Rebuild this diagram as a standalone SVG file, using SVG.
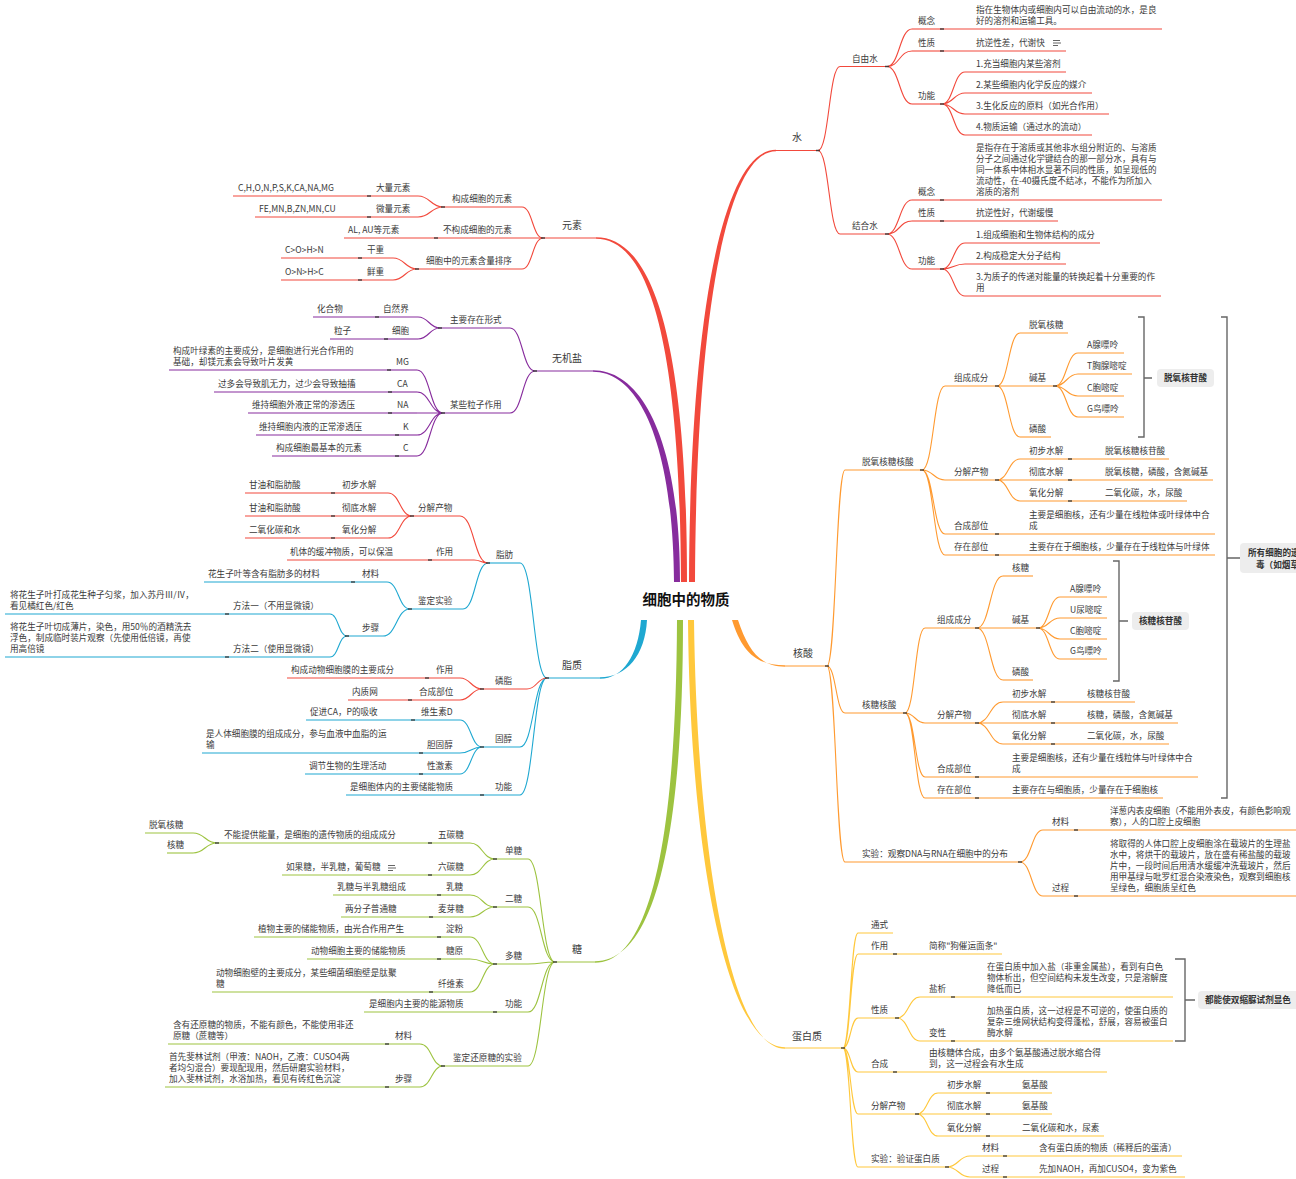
<svg xmlns="http://www.w3.org/2000/svg" width="1296" height="1179" viewBox="0 0 1296 1179">
<style>
.t{font-family:"Noto Sans CJK SC","Noto Sans",sans-serif;font-size:8.6px;fill:#3a3a3a}
.m{font-size:10px}
.c{font-size:14.5px;font-weight:bold;fill:#111;text-anchor:middle}
.bx{font-weight:bold;fill:#333}
.mid{text-anchor:middle}
.u{stroke-width:1.1;fill:none}
.R{stroke:#F2493C}.P{stroke:#872C9D}.B{stroke:#1FA8D1}.G{stroke:#9DC340}.Y{stroke:#FFC83C}.O{stroke:#FF9A30}
.fR{fill:#F2493C}.fP{fill:#872C9D}.fB{fill:#1FA8D1}.fG{fill:#9DC340}.fY{fill:#FFC83C}.fO{fill:#FF9A30}
.k{stroke:#333;stroke-width:1.5;fill:none;opacity:.85}
.br{stroke:#666;stroke-width:1.4;fill:none}
.box{fill:#EDEDED}
.ic{stroke:#555;stroke-width:0.9;fill:none}
</style>
<rect width="1296" height="1179" fill="#fff"/>
<g id="connectors">
<path class="fR" d="M689,582C690,330 720,149.75 776,149.75L776,151.25C724,151.25 696,330 695,582Z"/>
<path class="fR" d="M596,237.25C650,237.25 687,330 687,582L681,582C680,330 646,238.75 596,238.75Z"/>
<path class="fP" d="M593,370.25C642,370.25 680,440 680,582L674,582C673,440 638,371.75 593,371.75Z"/>
<path class="fB" d="M600,677.25C627,677.25 645,655 647,620L641,620C638,655 623,678.75 600,678.75Z"/>
<path class="fG" d="M595,961.25C652,961.25 683,850 683,620L677,620C676,850 648,962.75 595,962.75Z"/>
<path class="fY" d="M688,620C690,850 726,1047.25 785,1047.25L785,1048.75C730,1048.75 697,850 694,620Z"/>
<path class="fO" d="M732,620C742,652 756,665.25 785,665.25L785,666.75C760,666.75 748,650 738,620Z"/>
<path class="u R" d="M818,150.5C829,150.5 829,66.5 840,66.5M818,150.5C829,150.5 829,234 840,234M887,66.5C899.5,66.5 899.5,29 912,29M887,66.5C899.5,66.5 899.5,51 912,51M887,66.5C899.5,66.5 899.5,104 912,104M942,104C953.5,104 953.5,72 965,72M942,104C953.5,104 953.5,93 965,93M942,104C953.5,104 953.5,114 965,114M942,104C953.5,104 953.5,135 965,135M887,234C899.5,234 899.5,200 912,200M887,234C899.5,234 899.5,221 912,221M887,234C899.5,234 899.5,269 912,269M942,269C953.5,269 953.5,243 965,243M942,269C953.5,269 953.5,264 965,264M942,269C953.5,269 953.5,296 965,296"/>
<path class="u R" d="M543,238C532.5,238 532.5,207 522,207M543,238C532.5,238 532.5,269 522,269M443,207C430.5,207 430.5,196 418,196M443,207C430.5,207 430.5,217 418,217M417,269C405,269 405,258 393,258M417,269C405,269 405,280 393,280"/>
<path class="u P" d="M535,371C522.5,371 522.5,328 510,328M535,371C522.5,371 522.5,413 510,413M440,328C429,328 429,317 418,317M440,328C429,328 429,339 418,339M443,413C430,413 430,370 417,370M443,413C430,413 430,392 417,392M443,413H417M443,413C430,413 430,435 417,435M443,413C430,413 430,456 417,456"/>
<path class="u B" d="M547,678C533.5,678 533.5,563 520,563M547,678C533.5,678 533.5,747 520,747M547,678C533.5,678 533.5,795 520,795M488,563C475.5,563 475.5,609 463,609M410,609C398.5,609 398.5,582 387,582M410,609C396.5,609 396.5,636 383,636M347,636C338.5,636 338.5,614 330,614M347,636C338.5,636 338.5,657 330,657M482,747C471,747 471,720 460,720M482,747C471,747 471,753 460,753M482,747C471,747 471,774 460,774"/>
<path class="u R" d="M547,678C537,678 537,689 527,689M488,563C474,563 474,516 460,516M488,563C481,563 481,560 474,560M412,516C400,516 400,493 388,493M412,516H388M412,516C400,516 400,538 388,538M482,689C471,689 471,678 460,678M482,689C471,689 471,700 460,700"/>
<path class="u G" d="M555,962C541.5,962 541.5,859 528,859M555,962C541.5,962 541.5,907 528,907M555,962C541.5,962 541.5,964 528,964M555,962C541.5,962 541.5,1012 528,1012M555,962C541.5,962 541.5,1066 528,1066M495,859C482.5,859 482.5,843 470,843M495,859C482.5,859 482.5,875 470,875M217,843C205,843 205,833 193,833M217,843C205,843 205,853 193,853M495,907C482.5,907 482.5,895 470,895M495,907C482.5,907 482.5,917 470,917M495,964C482.5,964 482.5,937 470,937M495,964C482.5,964 482.5,959 470,959M495,964C482.5,964 482.5,992 470,992M443,1066C431.5,1066 431.5,1044 420,1044M443,1066C431.5,1066 431.5,1087 420,1087"/>
<path class="u O" d="M827,666C836,666 836,470 845,470M827,666C836,666 836,713 845,713M827,666C836,666 836,862 845,862M922,470C933.5,470 933.5,386 945,386M922,470C933.5,470 933.5,480 945,480M922,470C933.5,470 933.5,534 945,534M922,470C933.5,470 933.5,555 945,555M997,386C1008.5,386 1008.5,333 1020,333M997,386H1020M997,386C1008.5,386 1008.5,437 1020,437M1055,386C1066.5,386 1066.5,353 1078,353M1055,386C1066.5,386 1066.5,374 1078,374M1055,386C1066.5,386 1066.5,396 1078,396M1055,386C1066.5,386 1066.5,417 1078,417M997,480C1008.5,480 1008.5,459 1020,459M997,480H1020M997,480C1008.5,480 1008.5,501 1020,501M905,713C915,713 915,628 925,628M905,713C915,713 915,723 925,723M905,713C915,713 915,777 925,777M905,713C915,713 915,798 925,798M977,628C990,628 990,576 1003,576M977,628H1003M977,628C990,628 990,680 1003,680M1038,628C1049,628 1049,597 1060,597M1038,628C1049,628 1049,618 1060,618M1038,628C1049,628 1049,639 1060,639M1038,628C1049,628 1049,659 1060,659M977,723C990,723 990,702 1003,702M977,723H1003M977,723C990,723 990,744 1003,744M1020,862C1031.5,862 1031.5,830 1043,830M1020,862C1031.5,862 1031.5,896 1043,896"/>
<path class="u Y" d="M843,1048C850.5,1048 850.5,933 858,933M843,1048C850.5,1048 850.5,954 858,954M843,1048C850.5,1048 850.5,1018 858,1018M843,1048C850.5,1048 850.5,1072 858,1072M843,1048C850.5,1048 850.5,1114 858,1114M843,1048C850.5,1048 850.5,1167 858,1167M897,1018C908.5,1018 908.5,997 920,997M897,1018C908.5,1018 908.5,1041 920,1041M917,1114C927.5,1114 927.5,1093 938,1093M917,1114H938M917,1114C927.5,1114 927.5,1136 938,1136M947,1167C958.5,1167 958.5,1156 970,1156M947,1167C958.5,1167 958.5,1177 970,1177"/>
</g>
<g id="center"><text class="t c" x="686" y="605">细胞中的物质</text></g>
<!-- water -->
<g id="n-shui"><path class="u R" d="M776,150.5H818"/><text class="t m" x="792" y="141">水</text></g>
<g id="n-ziyoushui"><path class="u R" d="M840,66.5H887"/><text class="t" x="852" y="61.5">自由水</text></g>
<g id="n-jieheshui"><path class="u R" d="M840,234H887"/><text class="t" x="852" y="229">结合水</text></g>
<g id="n-zy-gainian"><path class="u R" d="M912,29H942"/><text class="t" x="918" y="24">概念</text></g>
<g id="n-zy-gainian-d"><path class="u R" d="M942,29H1162"/><text class="t"><tspan x="976" y="13">指在生物体内或细胞内可以自由流动的水，是良</tspan><tspan x="976" y="24">好的溶剂和运输工具。</tspan></text></g>
<g id="n-zy-xingzhi"><path class="u R" d="M912,51H942"/><text class="t" x="918" y="46">性质</text></g>
<g id="n-zy-xingzhi-d"><path class="u R" d="M942,51H1066"/><text class="t" x="976" y="46">抗逆性差，代谢快</text><path class="ic" d="M1053,40.5H1060M1053,43H1061M1053,45.5H1058"/></g>
<g id="n-zy-gongneng"><path class="u R" d="M912,104H942"/><text class="t" x="918" y="99">功能</text></g>
<g id="n-zy-gn1"><path class="u R" d="M965,72H1066"/><text class="t" x="976" y="67">1.充当细胞内某些溶剂</text></g>
<g id="n-zy-gn2"><path class="u R" d="M965,93H1092"/><text class="t" x="976" y="88">2.某些细胞内化学反应的媒介</text></g>
<g id="n-zy-gn3"><path class="u R" d="M965,114H1109"/><text class="t" x="976" y="109">3.生化反应的原料（如光合作用）</text></g>
<g id="n-zy-gn4"><path class="u R" d="M965,135H1092"/><text class="t" x="976" y="130">4.物质运输（通过水的流动）</text></g>
<g id="n-jh-gainian"><path class="u R" d="M912,200H942"/><text class="t" x="918" y="195">概念</text></g>
<g id="n-jh-gainian-d"><path class="u R" d="M942,200H1162"/><text class="t"><tspan x="976" y="150.6">是指存在于溶质或其他非水组分附近的、与溶质</tspan><tspan x="976" y="161.7">分子之间通过化学键结合的那一部分水，具有与</tspan><tspan x="976" y="172.8">同一体系中体相水显著不同的性质，如呈现低的</tspan><tspan x="976" y="183.9">流动性，在-40摄氏度不结冰，不能作为所加入</tspan><tspan x="976" y="195">溶质的溶剂</tspan></text></g>
<g id="n-jh-xingzhi"><path class="u R" d="M912,221H942"/><text class="t" x="918" y="216">性质</text></g>
<g id="n-jh-xingzhi-d"><path class="u R" d="M942,221H1058"/><text class="t" x="976" y="216">抗逆性好，代谢缓慢</text></g>
<g id="n-jh-gongneng"><path class="u R" d="M912,269H942"/><text class="t" x="918" y="264">功能</text></g>
<g id="n-jh-gn1"><path class="u R" d="M965,243H1100"/><text class="t" x="976" y="238">1.组成细胞和生物体结构的成分</text></g>
<g id="n-jh-gn2"><path class="u R" d="M965,264H1066"/><text class="t" x="976" y="259">2.构成稳定大分子结构</text></g>
<g id="n-jh-gn3"><path class="u R" d="M965,296H1161"/><text class="t"><tspan x="976" y="280">3.为质子的传递对能量的转换起着十分重要的作</tspan><tspan x="976" y="291">用</tspan></text></g>
<!-- nucleic acid -->
<g id="n-hesuan"><path class="u O" d="M785,666H827"/><text class="t m" x="793" y="657">核酸</text></g>
<g id="n-dna"><path class="u O" d="M845,470H922"/><text class="t" x="862" y="465">脱氧核糖核酸</text></g>
<g id="n-dna-zc"><path class="u O" d="M945,386H997"/><text class="t" x="954" y="381">组成成分</text></g>
<g id="n-dna-tyht"><path class="u O" d="M1020,333H1068"/><text class="t" x="1029" y="328">脱氧核糖</text></g>
<g id="n-dna-jj"><path class="u O" d="M1020,386H1055"/><text class="t" x="1029" y="381">碱基</text></g>
<g id="n-dna-ls"><path class="u O" d="M1020,437H1051"/><text class="t" x="1029" y="432">磷酸</text></g>
<g id="n-dna-a"><path class="u O" d="M1078,353H1124"/><text class="t" x="1087" y="348">A腺嘌呤</text></g>
<g id="n-dna-t"><path class="u O" d="M1078,374H1132"/><text class="t" x="1087" y="369">T胸腺嘧啶</text></g>
<g id="n-dna-c"><path class="u O" d="M1078,396H1124"/><text class="t" x="1087" y="391">C胞嘧啶</text></g>
<g id="n-dna-g"><path class="u O" d="M1078,417H1124"/><text class="t" x="1087" y="412">G鸟嘌呤</text></g>
<g id="n-dna-fj"><path class="u O" d="M945,480H997"/><text class="t" x="954" y="475">分解产物</text></g>
<g id="n-dna-cb"><path class="u O" d="M1020,459H1070"/><text class="t" x="1029" y="454">初步水解</text></g>
<g id="n-dna-cb-d"><path class="u O" d="M1070,459H1169"/><text class="t" x="1105" y="454">脱氧核糖核苷酸</text></g>
<g id="n-dna-cd"><path class="u O" d="M1020,480H1070"/><text class="t" x="1029" y="475">彻底水解</text></g>
<g id="n-dna-cd-d"><path class="u O" d="M1070,480H1213"/><text class="t" x="1105" y="475">脱氧核糖，磷酸，含氮碱基</text></g>
<g id="n-dna-yh"><path class="u O" d="M1020,501H1070"/><text class="t" x="1029" y="496">氧化分解</text></g>
<g id="n-dna-yh-d"><path class="u O" d="M1070,501H1187"/><text class="t" x="1105" y="496">二氧化碳，水，尿酸</text></g>
<g id="n-dna-hc"><path class="u O" d="M945,534H997"/><text class="t" x="954" y="529">合成部位</text></g>
<g id="n-dna-hc-d"><path class="u O" d="M997,534H1215"/><text class="t"><tspan x="1029" y="518">主要是细胞核，还有少量在线粒体或叶绿体中合</tspan><tspan x="1029" y="529">成</tspan></text></g>
<g id="n-dna-cz"><path class="u O" d="M945,555H997"/><text class="t" x="954" y="550">存在部位</text></g>
<g id="n-dna-cz-d"><path class="u O" d="M997,555H1215"/><text class="t" x="1029" y="550">主要存在于细胞核，少量存在于线粒体与叶绿体</text></g>
<g id="n-rna"><path class="u O" d="M845,713H905"/><text class="t" x="862" y="708">核糖核酸</text></g>
<g id="n-rna-zc"><path class="u O" d="M925,628H977"/><text class="t" x="937" y="623">组成成分</text></g>
<g id="n-rna-ht"><path class="u O" d="M1003,576H1033"/><text class="t" x="1012" y="571">核糖</text></g>
<g id="n-rna-jj"><path class="u O" d="M1003,628H1038"/><text class="t" x="1012" y="623">碱基</text></g>
<g id="n-rna-ls"><path class="u O" d="M1003,680H1033"/><text class="t" x="1012" y="675">磷酸</text></g>
<g id="n-rna-a"><path class="u O" d="M1060,597H1107"/><text class="t" x="1070" y="592">A腺嘌呤</text></g>
<g id="n-rna-u"><path class="u O" d="M1060,618H1107"/><text class="t" x="1070" y="613">U尿嘧啶</text></g>
<g id="n-rna-c"><path class="u O" d="M1060,639H1107"/><text class="t" x="1070" y="634">C胞嘧啶</text></g>
<g id="n-rna-g"><path class="u O" d="M1060,659H1107"/><text class="t" x="1070" y="654">G鸟嘌呤</text></g>
<g id="n-rna-fj"><path class="u O" d="M925,723H977"/><text class="t" x="937" y="718">分解产物</text></g>
<g id="n-rna-cb"><path class="u O" d="M1003,702H1053"/><text class="t" x="1012" y="697">初步水解</text></g>
<g id="n-rna-cb-d"><path class="u O" d="M1053,702H1135"/><text class="t" x="1087" y="697">核糖核苷酸</text></g>
<g id="n-rna-cd"><path class="u O" d="M1003,723H1053"/><text class="t" x="1012" y="718">彻底水解</text></g>
<g id="n-rna-cd-d"><path class="u O" d="M1053,723H1178"/><text class="t" x="1087" y="718">核糖，磷酸，含氮碱基</text></g>
<g id="n-rna-yh"><path class="u O" d="M1003,744H1053"/><text class="t" x="1012" y="739">氧化分解</text></g>
<g id="n-rna-yh-d"><path class="u O" d="M1053,744H1169"/><text class="t" x="1087" y="739">二氧化碳，水，尿酸</text></g>
<g id="n-rna-hc"><path class="u O" d="M925,777H977"/><text class="t" x="937" y="772">合成部位</text></g>
<g id="n-rna-hc-d"><path class="u O" d="M977,777H1198"/><text class="t"><tspan x="1012" y="761">主要是细胞核，还有少量在线粒体与叶绿体中合</tspan><tspan x="1012" y="772">成</tspan></text></g>
<g id="n-rna-cz"><path class="u O" d="M925,798H977"/><text class="t" x="937" y="793">存在部位</text></g>
<g id="n-rna-cz-d"><path class="u O" d="M977,798H1163"/><text class="t" x="1012" y="793">主要存在与细胞质，少量存在于细胞核</text></g>
<g id="n-exp"><path class="u O" d="M845,862H1020"/><text class="t" x="862" y="857">实验：观察DNA与RNA在细胞中的分布</text></g>
<g id="n-exp-cl"><path class="u O" d="M1043,830H1076"/><text class="t" x="1052" y="825">材料</text></g>
<g id="n-exp-cl-d"><path class="u O" d="M1076,830H1296"/><text class="t"><tspan x="1110" y="814">洋葱内表皮细胞（不能用外表皮，有颜色影响观</tspan><tspan x="1110" y="825">察），人的口腔上皮细胞</tspan></text></g>
<g id="n-exp-gc"><path class="u O" d="M1043,896H1076"/><text class="t" x="1052" y="891">过程</text></g>
<g id="n-exp-gc-d"><path class="u O" d="M1076,896H1296"/><text class="t"><tspan x="1110" y="846.6">将取得的人体口腔上皮细胞涂在载玻片的生理盐</tspan><tspan x="1110" y="857.7">水中，将烘干的载玻片，放在盛有稀盐酸的载玻</tspan><tspan x="1110" y="868.8">片中，一段时间后用清水缓缓冲洗载玻片，然后</tspan><tspan x="1110" y="879.9">用甲基绿与吡罗红混合染液染色，观察到细胞核</tspan><tspan x="1110" y="891">呈绿色，细胞质呈红色</tspan></text></g>
<!-- protein -->
<g id="n-dbz"><path class="u Y" d="M785,1048H843"/><text class="t m" x="792" y="1040">蛋白质</text></g>
<g id="n-dbz-ts"><path class="u Y" d="M858,933H893"/><text class="t" x="871" y="928">通式</text></g>
<g id="n-dbz-zy"><path class="u Y" d="M858,954H895"/><text class="t" x="871" y="949">作用</text></g>
<g id="n-dbz-zy-d"><path class="u Y" d="M895,954H1002"/><text class="t" x="929" y="949">简称&quot;狗催运面条&quot;</text></g>
<g id="n-dbz-xz"><path class="u Y" d="M858,1018H897"/><text class="t" x="871" y="1013">性质</text></g>
<g id="n-dbz-yx"><path class="u Y" d="M920,997H953"/><text class="t" x="929" y="992">盐析</text></g>
<g id="n-dbz-yx-d"><path class="u Y" d="M953,997H1173"/><text class="t"><tspan x="987" y="969.8">在蛋白质中加入盐（非重金属盐），看到有白色</tspan><tspan x="987" y="980.9">物体析出，但空间结构未发生改变，只是溶解度</tspan><tspan x="987" y="992">降低而已</tspan></text></g>
<g id="n-dbz-bx"><path class="u Y" d="M920,1041H953"/><text class="t" x="929" y="1036">变性</text></g>
<g id="n-dbz-bx-d"><path class="u Y" d="M953,1041H1173"/><text class="t"><tspan x="987" y="1013.8">加热蛋白质，这一过程是不可逆的，使蛋白质的</tspan><tspan x="987" y="1024.9">复杂三维网状结构变得蓬松，舒展，容易被蛋白</tspan><tspan x="987" y="1036">酶水解</tspan></text></g>
<g id="n-dbz-hc"><path class="u Y" d="M858,1072H895"/><text class="t" x="871" y="1067">合成</text></g>
<g id="n-dbz-hc-d"><path class="u Y" d="M895,1072H1107"/><text class="t"><tspan x="929" y="1056">由核糖体合成，由多个氨基酸通过脱水缩合得</tspan><tspan x="929" y="1067">到，这一过程会有水生成</tspan></text></g>
<g id="n-dbz-fj"><path class="u Y" d="M858,1114H917"/><text class="t" x="871" y="1109">分解产物</text></g>
<g id="n-dbz-cb"><path class="u Y" d="M938,1093H988"/><text class="t" x="947" y="1088">初步水解</text></g>
<g id="n-dbz-cb-d"><path class="u Y" d="M988,1093H1052"/><text class="t" x="1022" y="1088">氨基酸</text></g>
<g id="n-dbz-cd"><path class="u Y" d="M938,1114H988"/><text class="t" x="947" y="1109">彻底水解</text></g>
<g id="n-dbz-cd-d"><path class="u Y" d="M988,1114H1052"/><text class="t" x="1022" y="1109">氨基酸</text></g>
<g id="n-dbz-yh"><path class="u Y" d="M938,1136H988"/><text class="t" x="947" y="1131">氧化分解</text></g>
<g id="n-dbz-yh-d"><path class="u Y" d="M988,1136H1104"/><text class="t" x="1022" y="1131">二氧化碳和水，尿素</text></g>
<g id="n-dbz-sy"><path class="u Y" d="M858,1167H947"/><text class="t" x="871" y="1162">实验：验证蛋白质</text></g>
<g id="n-dbz-cl"><path class="u Y" d="M970,1156H1005"/><text class="t" x="982" y="1151">材料</text></g>
<g id="n-dbz-cl-d"><path class="u Y" d="M1005,1156H1182"/><text class="t" x="1039" y="1151">含有蛋白质的物质（稀释后的蛋清）</text></g>
<g id="n-dbz-gc"><path class="u Y" d="M970,1177H1005"/><text class="t" x="982" y="1172">过程</text></g>
<g id="n-dbz-gc-d"><path class="u Y" d="M1005,1177H1185"/><text class="t" x="1039" y="1172">先加NAOH，再加CUSO4，变为紫色</text></g>
<!-- elements -->
<g id="n-ys"><path class="u R" d="M543,238H596"/><text class="t m" x="562" y="229">元素</text></g>
<g id="n-ys-gc"><path class="u R" d="M443,207H522"/><text class="t" x="452" y="202">构成细胞的元素</text></g>
<g id="n-ys-dl"><path class="u R" d="M369,196H418"/><text class="t" x="376" y="191">大量元素</text></g>
<g id="n-ys-dl-d"><path class="u R" d="M233,196H369"/><text class="t" x="238" y="191">C,H,O,N,P,S,K,CA,NA,MG</text></g>
<g id="n-ys-wl"><path class="u R" d="M369,217H418"/><text class="t" x="376" y="212">微量元素</text></g>
<g id="n-ys-wl-d"><path class="u R" d="M255,217H369"/><text class="t" x="259" y="212">FE,MN,B,ZN,MN,CU</text></g>
<g id="n-ys-bgc"><path class="u R" d="M436,238H543"/><text class="t" x="443" y="233">不构成细胞的元素</text></g>
<g id="n-ys-bgc-d"><path class="u R" d="M344,238H436"/><text class="t" x="348" y="233">AL, AU等元素</text></g>
<g id="n-ys-px"><path class="u R" d="M417,269H522"/><text class="t" x="426" y="264">细胞中的元素含量排序</text></g>
<g id="n-ys-gz"><path class="u R" d="M360,258H393"/><text class="t" x="367" y="253">干重</text></g>
<g id="n-ys-gz-d"><path class="u R" d="M281,258H360"/><text class="t" x="285" y="253">C&gt;O&gt;H&gt;N</text></g>
<g id="n-ys-xz"><path class="u R" d="M360,280H393"/><text class="t" x="367" y="275">鲜重</text></g>
<g id="n-ys-xz-d"><path class="u R" d="M281,280H360"/><text class="t" x="285" y="275">O&gt;N&gt;H&gt;C</text></g>
<!-- inorganic salts -->
<g id="n-wjy"><path class="u P" d="M535,371H593"/><text class="t m" x="552" y="362">无机盐</text></g>
<g id="n-wjy-zy"><path class="u P" d="M440,328H510"/><text class="t" x="450" y="323">主要存在形式</text></g>
<g id="n-wjy-zrj"><path class="u P" d="M377,317H418"/><text class="t" x="383" y="312">自然界</text></g>
<g id="n-wjy-zrj-d"><path class="u P" d="M313,317H377"/><text class="t" x="317" y="312">化合物</text></g>
<g id="n-wjy-xb"><path class="u P" d="M386,339H418"/><text class="t" x="392" y="334">细胞</text></g>
<g id="n-wjy-xb-d"><path class="u P" d="M330,339H386"/><text class="t" x="334" y="334">粒子</text></g>
<g id="n-wjy-mx"><path class="u P" d="M443,413H510"/><text class="t" x="450" y="408">某些粒子作用</text></g>
<g id="n-wjy-mg"><path class="u P" d="M389,370H417"/><text class="t" x="396" y="365">MG</text></g>
<g id="n-wjy-mg-d"><path class="u P" d="M169,370H389"/><text class="t"><tspan x="173" y="354">构成叶绿素的主要成分，是细胞进行光合作用的</tspan><tspan x="173" y="365">基础，却镁元素会导致叶片发黄</tspan></text></g>
<g id="n-wjy-ca"><path class="u P" d="M390,392H417"/><text class="t" x="397" y="387">CA</text></g>
<g id="n-wjy-ca-d"><path class="u P" d="M214,392H390"/><text class="t" x="218" y="387">过多会导致肌无力，过少会导致抽搐</text></g>
<g id="n-wjy-na"><path class="u P" d="M390,413H417"/><text class="t" x="397" y="408">NA</text></g>
<g id="n-wjy-na-d"><path class="u P" d="M248,413H390"/><text class="t" x="252" y="408">维持细胞外液正常的渗透压</text></g>
<g id="n-wjy-k"><path class="u P" d="M397,435H417"/><text class="t" x="403" y="430">K</text></g>
<g id="n-wjy-k-d"><path class="u P" d="M256,435H397"/><text class="t" x="259" y="430">维持细胞内液的正常渗透压</text></g>
<g id="n-wjy-c"><path class="u P" d="M397,456H417"/><text class="t" x="403" y="451">C</text></g>
<g id="n-wjy-c-d"><path class="u P" d="M272,456H397"/><text class="t" x="276" y="451">构成细胞最基本的元素</text></g>
<!-- lipids -->
<g id="n-zz"><path class="u B" d="M547,678H600"/><text class="t m" x="562" y="669">脂质</text></g>
<g id="n-zf"><path class="u B" d="M488,563H520"/><text class="t" x="496" y="558">脂肪</text></g>
<g id="n-zf-fj"><path class="u R" d="M412,516H460"/><text class="t" x="418" y="511">分解产物</text></g>
<g id="n-zf-cb"><path class="u R" d="M333,493H388"/><text class="t" x="342" y="488">初步水解</text></g>
<g id="n-zf-cb-d"><path class="u R" d="M245,493H333"/><text class="t" x="249" y="488">甘油和脂肪酸</text></g>
<g id="n-zf-cd"><path class="u R" d="M333,516H388"/><text class="t" x="342" y="511">彻底水解</text></g>
<g id="n-zf-cd-d"><path class="u R" d="M245,516H333"/><text class="t" x="249" y="511">甘油和脂肪酸</text></g>
<g id="n-zf-yh"><path class="u R" d="M333,538H388"/><text class="t" x="342" y="533">氧化分解</text></g>
<g id="n-zf-yh-d"><path class="u R" d="M245,538H333"/><text class="t" x="249" y="533">二氧化碳和水</text></g>
<g id="n-zf-zy"><path class="u R" d="M430,560H474"/><text class="t" x="436" y="555">作用</text></g>
<g id="n-zf-zy-d"><path class="u R" d="M287,560H430"/><text class="t" x="290" y="555">机体的缓冲物质，可以保温</text></g>
<g id="n-zf-jd"><path class="u B" d="M410,609H463"/><text class="t" x="418" y="604">鉴定实验</text></g>
<g id="n-zf-cl"><path class="u B" d="M353,582H387"/><text class="t" x="362" y="577">材料</text></g>
<g id="n-zf-cl-d"><path class="u B" d="M204,582H353"/><text class="t" x="208" y="577">花生子叶等含有脂肪多的材料</text></g>
<g id="n-zf-bz"><path class="u B" d="M347,636H383"/><text class="t" x="362" y="631">步骤</text></g>
<g id="n-zf-ff1"><path class="u B" d="M227,614H330"/><text class="t" x="233" y="609">方法一（不用显微镜）</text></g>
<g id="n-zf-ff1-d"><path class="u B" d="M5,614H227"/><text class="t"><tspan x="10" y="598">将花生子叶打成花生种子匀浆，加入苏丹Ⅲ/Ⅳ，</tspan><tspan x="10" y="609">看见橘红色/红色</tspan></text></g>
<g id="n-zf-ff2"><path class="u B" d="M227,657H330"/><text class="t" x="233" y="652">方法二（使用显微镜）</text></g>
<g id="n-zf-ff2-d"><path class="u B" d="M5,657H227"/><text class="t"><tspan x="10" y="630">将花生子叶切成薄片，染色，用50％的酒精洗去</tspan><tspan x="10" y="641">浮色，制成临时装片观察（先使用低倍镜，再使</tspan><tspan x="10" y="652">用高倍镜</tspan></text></g>
<g id="n-lz"><path class="u R" d="M482,689H527"/><text class="t" x="495" y="684">磷脂</text></g>
<g id="n-lz-zy"><path class="u R" d="M427,678H460"/><text class="t" x="436" y="673">作用</text></g>
<g id="n-lz-zy-d"><path class="u R" d="M287,678H427"/><text class="t" x="291" y="673">构成动物细胞膜的主要成分</text></g>
<g id="n-lz-hc"><path class="u R" d="M410,700H460"/><text class="t" x="419" y="695">合成部位</text></g>
<g id="n-lz-hc-d"><path class="u R" d="M348,700H410"/><text class="t" x="352" y="695">内质网</text></g>
<g id="n-gc"><path class="u B" d="M482,747H520"/><text class="t" x="495" y="742">固醇</text></g>
<g id="n-gc-vd"><path class="u B" d="M413,720H460"/><text class="t" x="421" y="715">维生素D</text></g>
<g id="n-gc-vd-d"><path class="u B" d="M306,720H413"/><text class="t" x="310" y="715">促进CA，P的吸收</text></g>
<g id="n-gc-dgc"><path class="u B" d="M421,753H460"/><text class="t" x="427" y="748">胆固醇</text></g>
<g id="n-gc-dgc-d"><path class="u B" d="M202,753H421"/><text class="t"><tspan x="206" y="737">是人体细胞膜的组成成分，参与血液中血脂的运</tspan><tspan x="206" y="748">输</tspan></text></g>
<g id="n-gc-xjs"><path class="u B" d="M421,774H460"/><text class="t" x="427" y="769">性激素</text></g>
<g id="n-gc-xjs-d"><path class="u B" d="M305,774H421"/><text class="t" x="309" y="769">调节生物的生理活动</text></g>
<g id="n-zz-gn"><path class="u B" d="M482,795H520"/><text class="t" x="495" y="790">功能</text></g>
<g id="n-zz-gn-d"><path class="u B" d="M346,795H482"/><text class="t" x="350" y="790">是细胞体内的主要储能物质</text></g>
<!-- sugars -->
<g id="n-tang"><path class="u G" d="M555,962H595"/><text class="t m" x="572" y="953">糖</text></g>
<g id="n-dt"><path class="u G" d="M495,859H528"/><text class="t" x="505" y="854">单糖</text></g>
<g id="n-wtt"><path class="u G" d="M430,843H470"/><text class="t" x="438" y="838">五碳糖</text></g>
<g id="n-wtt-d"><path class="u G" d="M217,843H430"/><text class="t" x="224" y="838">不能提供能量，是细胞的遗传物质的组成成分</text></g>
<g id="n-tyht"><path class="u G" d="M145,833H193"/><text class="t" x="149" y="828">脱氧核糖</text></g>
<g id="n-ht"><path class="u G" d="M167,853H193"/><text class="t" x="167" y="848">核糖</text></g>
<g id="n-ltt"><path class="u G" d="M430,875H470"/><text class="t" x="438" y="870">六碳糖</text></g>
<g id="n-ltt-d"><path class="u G" d="M282,875H430"/><text class="t" x="286" y="870">如果糖，半乳糖，葡萄糖</text><path class="ic" d="M388,865.5H395M388,868H396M388,870.5H393"/></g>
<g id="n-et"><path class="u G" d="M495,907H528"/><text class="t" x="505" y="902">二糖</text></g>
<g id="n-rt"><path class="u G" d="M439,895H470"/><text class="t" x="446" y="890">乳糖</text></g>
<g id="n-rt-d"><path class="u G" d="M333,895H439"/><text class="t" x="337" y="890">乳糖与半乳糖组成</text></g>
<g id="n-myt"><path class="u G" d="M431,917H470"/><text class="t" x="438" y="912">麦芽糖</text></g>
<g id="n-myt-d"><path class="u G" d="M341,917H431"/><text class="t" x="345" y="912">两分子普通糖</text></g>
<g id="n-duot"><path class="u G" d="M495,964H528"/><text class="t" x="505" y="959">多糖</text></g>
<g id="n-df"><path class="u G" d="M439,937H470"/><text class="t" x="446" y="932">淀粉</text></g>
<g id="n-df-d"><path class="u G" d="M254,937H439"/><text class="t" x="258" y="932">植物主要的储能物质，由光合作用产生</text></g>
<g id="n-ty"><path class="u G" d="M439,959H470"/><text class="t" x="446" y="954">糖原</text></g>
<g id="n-ty-d"><path class="u G" d="M307,959H439"/><text class="t" x="311" y="954">动物细胞主要的储能物质</text></g>
<g id="n-xws"><path class="u G" d="M431,992H470"/><text class="t" x="438" y="987">纤维素</text></g>
<g id="n-xws-d"><path class="u G" d="M212,992H431"/><text class="t"><tspan x="216" y="976">动物细胞壁的主要成分，某些细菌细胞壁是肽聚</tspan><tspan x="216" y="987">糖</tspan></text></g>
<g id="n-tang-gn"><path class="u G" d="M495,1012H528"/><text class="t" x="505" y="1007">功能</text></g>
<g id="n-tang-gn-d"><path class="u G" d="M364,1012H495"/><text class="t" x="369" y="1007">是细胞内主要的能源物质</text></g>
<g id="n-hyt"><path class="u G" d="M443,1066H528"/><text class="t" x="453" y="1061">鉴定还原糖的实验</text></g>
<g id="n-hyt-cl"><path class="u G" d="M387,1044H420"/><text class="t" x="395" y="1039">材料</text></g>
<g id="n-hyt-cl-d"><path class="u G" d="M168,1044H387"/><text class="t"><tspan x="173" y="1028">含有还原糖的物质，不能有颜色，不能使用非还</tspan><tspan x="173" y="1039">原糖（蔗糖等）</tspan></text></g>
<g id="n-hyt-bz"><path class="u G" d="M387,1087H420"/><text class="t" x="395" y="1082">步骤</text></g>
<g id="n-hyt-bz-d"><path class="u G" d="M165,1087H387"/><text class="t"><tspan x="169" y="1060">首先斐林试剂（甲液：NAOH，乙液：CUSO4两</tspan><tspan x="169" y="1071">者均匀混合）要现配现用，然后研磨实验材料，</tspan><tspan x="169" y="1082">加入斐林试剂，水浴加热，看见有砖红色沉淀</tspan></text></g>
<!-- summaries -->
<g id="s-dnt"><path class="br" d="M1138,317H1144V437H1138M1144,378H1152"/><rect class="box" x="1157" y="369" width="57" height="18" rx="4"/><text class="t bx mid" x="1185.5" y="381.3">脱氧核苷酸</text></g>
<g id="s-rnt"><path class="br" d="M1113,561H1119V681H1113M1119,621H1128"/><rect class="box" x="1132" y="612" width="57" height="18" rx="4"/><text class="t bx mid" x="1160.5" y="624.3">核糖核苷酸</text></g>
<g id="s-all"><path class="br" d="M1221,317H1227V798H1221M1227,558H1240"/><rect class="box" x="1240" y="543" width="70" height="30" rx="4"/><text class="t bx"><tspan x="1248" y="556">所有细胞的遗</tspan><tspan x="1256" y="567.5">毒（如烟草</tspan></text></g>
<g id="s-prot"><path class="br" d="M1175,959H1185V1041H1175M1185,1000H1195"/><rect class="box" x="1198" y="991" width="110" height="18" rx="4"/><text class="t bx" x="1205" y="1003.3">都能使双缩脲试剂显色</text></g>
<g id="junctions"><path class="k" d="M816,150.5h4M885,66.5h4M885,234h4M940,29h4M940,51h4M940,104h4M940,200h4M940,221h4M940,269h4M825,666h4M920,470h4M903,713h4M1018,862h4M995,386h4M995,480h4M995,534h4M995,555h4M1053,386h4M1068,459h4M1068,480h4M1068,501h4M975,628h4M975,723h4M975,777h4M975,798h4M1036,628h4M1051,702h4M1051,723h4M1051,744h4M1074,830h4M1074,896h4M841,1048h4M893,954h4M895,1018h4M951,997h4M951,1041h4M893,1072h4M915,1114h4M986,1093h4M986,1114h4M986,1136h4M945,1167h4M1003,1156h4M1003,1177h4M541,238h4M441,207h4M434,238h4M415,269h4M367,196h4M367,217h4M358,258h4M358,280h4M533,371h4M438,328h4M441,413h4M375,317h4M384,339h4M387,370h4M388,392h4M388,413h4M395,435h4M395,456h4M545,678h4M486,563h4M410,516h4M331,493h4M331,516h4M331,538h4M428,560h4M408,609h4M351,582h4M345,636h4M225,614h4M225,657h4M480,689h4M425,678h4M408,700h4M480,747h4M411,720h4M419,753h4M419,774h4M480,795h4M553,962h4M493,859h4M428,843h4M215,843h4M428,875h4M493,907h4M437,895h4M429,917h4M493,964h4M437,937h4M437,959h4M429,992h4M493,1012h4M441,1066h4M385,1044h4M385,1087h4"/></g>
</svg>
